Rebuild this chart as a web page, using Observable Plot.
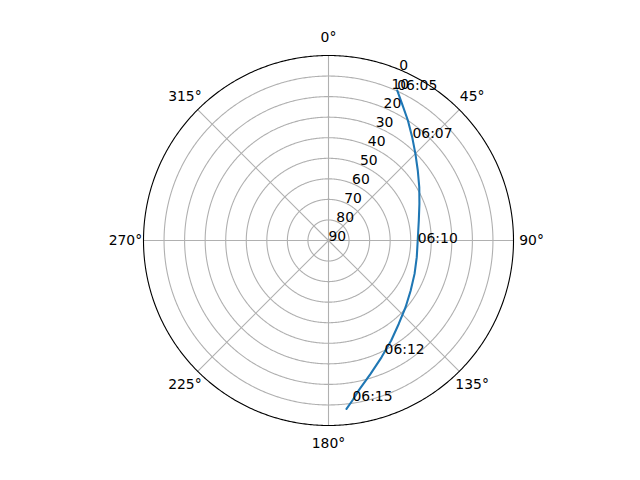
<!DOCTYPE html>
<html>
<head>
<meta charset="utf-8">
<script src="https://cdn.jsdelivr.net/npm/d3@7"></script>
<script src="https://cdn.jsdelivr.net/npm/@observablehq/plot@0.6"></script>
<style>
  html, body { margin: 0; padding: 0; background: #ffffff; }
  #chart { width: 640px; height: 480px; }
</style>
</head>
<body>
<div id="chart"></div>
<script>
// Azimuth tick positions (degrees, clockwise from north) and their labels
const azTicks = [0, 45, 90, 135, 180, 225, 270, 315];
const azTickLabels = ["0°", "45°", "90°", "135°", "180°", "225°", "270°", "315°"];
// Elevation rings and radial tick labels
const elRings = [10, 20, 30, 40, 50, 60, 70, 80];
const elTicks = [0, 10, 20, 30, 40, 50, 60, 70, 80, 90];
const elTickLabels = ["0", "10", "20", "30", "40", "50", "60", "70", "80", "90"];
// Satellite track (azimuth, elevation)
const trackAz = [24.6, 28.3, 33.5, 39.0, 45.1, 51.9, 59.6, 68.0, 77.5, 90.0, 100.7, 111.2, 121.3, 130.9, 139.8, 147.9, 155.6, 162.5, 168.6, 173.9];
const trackEl = [9.7, 14.5, 20.0, 25.3, 30.3, 34.8, 38.8, 42.3, 45.0, 46.6, 46.3, 45.1, 43.2, 40.4, 37.0, 32.6, 27.6, 22.0, 15.6, 7.6];
// Time annotations
const labelTimes = ["06:05", "06:07", "06:10", "06:12", "06:15"];
const labelAz = [24.6, 39.3, 91.3, 153.8, 171.5];
const labelEl = [9.7, 25.5, 46.6, 28.2, 11.0];

const RLABEL_AZ = 22.5;   // direction of the radial labels
const OUTER_LAT = -8.8;   // just outside the rim, for the azimuth labels

const lon = az => 180 - az; // north at top, clockwise

const track = trackAz.map((a, i) => ({az: a, el: trackEl[i]}));
const timeLabels = labelTimes.map((t, i) => ({t, az: labelAz[i], el: labelEl[i]}));
const spokes = azTicks.map((a, i) => ({az: a, label: azTickLabels[i]}));
const rLabels = elTicks.map((e, i) => ({el: e, label: elTickLabels[i]}));

const circle = r => d3.geoCircle().center([0, 90]).radius(r).precision(0.5)();

const FONT = 13.9;
const chart = Plot.plot({
  width: 640,
  height: 480,
  marginLeft: 143,
  marginRight: 127,
  marginTop: 55,
  marginBottom: 55,
  style: {fontFamily: "DejaVu Sans", fontSize: FONT + "px", background: "#ffffff", color: "#000000"},
  projection: {
    type: "azimuthal-equidistant",
    rotate: [0, -90],
    domain: circle(90),
    clip: false
  },
  marks: [
    Plot.geo(elRings, {geometry: e => circle(90 - e), fill: "none", stroke: "#b0b0b0", strokeWidth: 1.1}),
    Plot.link(spokes, {x1: d => lon(d.az), y1: 90, x2: d => lon(d.az), y2: 0, stroke: "#b0b0b0", strokeWidth: 1.1}),
    Plot.geo([0], {geometry: () => circle(90), fill: "none", stroke: "#000000", strokeWidth: 1.1}),
    Plot.line(track, {x: d => lon(d.az), y: "el", stroke: "#1f77b4", strokeWidth: 2.08}),
    Plot.text(rLabels, {x: lon(RLABEL_AZ), y: "el", text: "label", textAnchor: "start", lineAnchor: "bottom", fontSize: FONT, fill: "#000"}),
    Plot.text(spokes, {x: d => lon(d.az), y: OUTER_LAT, text: "label", textAnchor: "middle", lineAnchor: "middle", fontSize: FONT, fill: "#000"}),
    Plot.text(timeLabels, {x: d => lon(d.az), y: "el", text: "t", textAnchor: "start", lineAnchor: "bottom", fontSize: FONT, fill: "#000"})
  ]
});
document.getElementById("chart").appendChild(chart);
</script>
</body>
</html>
